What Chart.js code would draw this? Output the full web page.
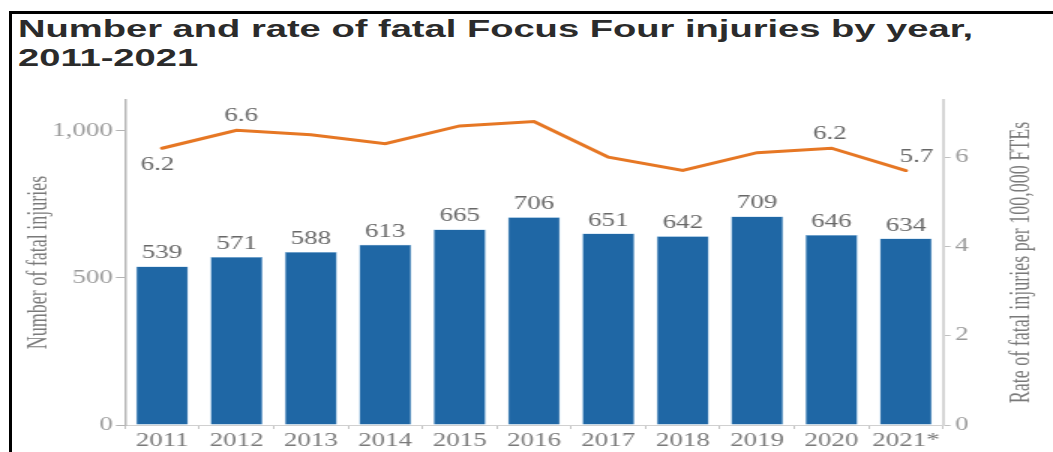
<!DOCTYPE html>
<html>
<head>
<meta charset="utf-8">
<script src="https://cdn.jsdelivr.net/npm/chart.js@4.4.0/dist/chart.umd.min.js"></script>
<style>
  html, body { margin: 0; padding: 0; background: #fff; width: 1053px; height: 452px; overflow: hidden; }
  #frame { position: absolute; left: 9px; top: 11px; width: 1100px; height: 500px; border-left: 3px solid #000; border-top: 3px solid #000; }
  #title { position: absolute; left: 18px; top: 15px; font: bold 23px "Liberation Sans", Arial, sans-serif; line-height: 29px; color: #2b2b2b; white-space: nowrap; transform-origin: 0 0; }
  #myChart { position: absolute; left: 0; top: 0; }
</style>
</head>
<body>
<div id="frame"></div>
<div id="title"><div id="t1"><span>Number and rate of fatal Focus Four injuries by year,</span></div><div>2011-2021</div></div>
<canvas id="myChart" width="702" height="452" style="width:1053px;height:452px"></canvas>
<script>
// data
const years = ['2011', '2012', '2013', '2014', '2015', '2016', '2017', '2018', '2019', '2020', '2021*'];
const fatalInjuries = [539, 571, 588, 613, 665, 706, 651, 642, 709, 646, 634];
const fatalRate = [6.2, 6.6, 6.5, 6.3, 6.7, 6.8, 6.0, 5.7, 6.1, 6.2, 5.7];
const countTicks = [0, 500, 1000];
const rateTicks = [0, 2, 4, 6];
const labelledRates = [0, 1, 9, 10]; // only these points carry a number

// the picture is stretched sideways, so draw narrow and widen with css (1053 / 702)
const serif = '"Liberation Serif", "Times New Roman", serif';

// title fits the width of the original
const t1 = document.querySelector('#t1 span');
const titleScale = 955 / t1.getBoundingClientRect().width;
document.getElementById('title').style.transform = 'scaleX(' + titleScale + ')';

// where each rate number sits, relative to its point
const rateOffset = { 0: [-3, 22], 1: [3, -9], 9: [-1, -9], 10: [7, -9] };

const labelsPlugin = {
  id: 'labelsPlugin',
  afterDatasetsDraw(chart) {
    const ctx = chart.ctx;
    ctx.save();
    ctx.font = '18px ' + serif;
    ctx.fillStyle = '#686868';
    ctx.textAlign = 'center';
    ctx.textBaseline = 'alphabetic';
    chart.getDatasetMeta(0).data.forEach((bar, i) => {
      ctx.fillText(String(fatalInjuries[i]), bar.x, bar.y - 8);
    });
    const pts = chart.getDatasetMeta(1).data;
    labelledRates.forEach(i => {
      const off = rateOffset[i];
      ctx.fillText(fatalRate[i].toFixed(1), pts[i].x + off[0], pts[i].y + off[1]);
    });

    // right axis title reads bottom to top
    const a = chart.chartArea;
    ctx.font = '18px ' + serif;
    ctx.fillStyle = '#7a7a7a';
    ctx.textBaseline = 'middle';
    ctx.translate(681, (a.top + a.bottom) / 2);
    ctx.rotate(-Math.PI / 2);
    ctx.fillText('Rate of fatal injuries per 100,000 FTEs', 0, 0);
    ctx.restore();
  }
};

const ctx = document.getElementById('myChart');

new Chart(ctx, {
  data: {
    labels: years,
    datasets: [
      {
        type: 'bar',
        label: 'Number of fatal injuries',
        data: fatalInjuries,
        backgroundColor: '#1f67a5',
        borderColor: '#7fb4de',
        borderWidth: 0.5,
        barPercentage: 0.7,
        categoryPercentage: 1,
        yAxisID: 'y',
        order: 2
      },
      {
        type: 'line',
        label: 'Rate',
        data: fatalRate,
        borderColor: '#e67724',
        borderWidth: 3,
        pointRadius: 0,
        tension: 0,
        borderCapStyle: 'round',
        yAxisID: 'y1',
        order: 1
      }
    ]
  },
  options: {
    responsive: false,
    animation: false,
    devicePixelRatio: 1,
    layout: { padding: { top: 100, left: 0, right: 0, bottom: 0 } },
    plugins: {
      legend: { display: false },
      tooltip: { enabled: false }
    },
    scales: {
      x: {
        offset: true,
        grid: { drawOnChartArea: false, drawTicks: true, tickLength: 4, color: '#c4c4c4', offset: true },
        border: { color: '#d0d0d0', width: 1 },
        ticks: { color: '#7a7a7a', font: { family: serif, size: 18 }, padding: 1, maxRotation: 0, autoSkip: false },
        afterFit(s) { s.height = 27; }
      },
      y: {
        position: 'left',
        min: 0,
        max: 1105,
        afterBuildTicks(s) { s.ticks = countTicks.map(v => ({ value: v })); },
        ticks: { color: '#9a9a9a', font: { family: serif, size: 18 }, padding: 2 },
        grid: { drawOnChartArea: false, tickLength: 6, color: '#b3b3b3' },
        border: { color: '#b8b8b8', width: 1.5 },
        title: { display: true, text: 'Number of fatal injuries', color: '#7a7a7a', font: { family: serif, size: 18 }, padding: { top: 15, bottom: 0 } },
        afterFit(s) { s.width = 83.3; }
      },
      y1: {
        position: 'right',
        min: 0,
        max: 7.28,
        afterBuildTicks(s) { s.ticks = rateTicks.map(v => ({ value: v })); },
        ticks: { color: '#9a9a9a', font: { family: serif, size: 18 }, padding: 3 },
        grid: { drawOnChartArea: false, tickLength: 5, color: '#c0c0c0' },
        border: { color: '#d6d6d6', width: 2 },
        afterFit(s) { s.width = 73.3; }
      }
    }
  },
  plugins: [labelsPlugin]
});
</script>
</body>
</html>
